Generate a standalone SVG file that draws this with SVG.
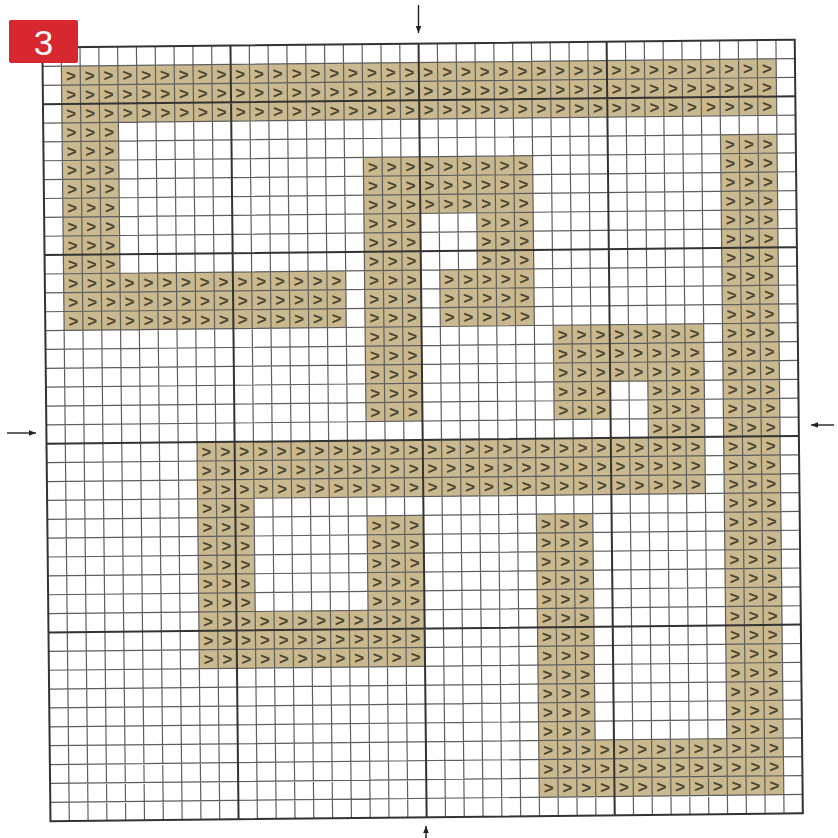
<svg xmlns="http://www.w3.org/2000/svg" width="838" height="838" viewBox="0 0 838 838">
<style>
.bg{fill:#ffffff}
.tan{fill:#cab88f}
.thin{fill:none;stroke:#5e5e5e;stroke-width:1.2}
.thick{fill:none;stroke:#333333;stroke-width:2}
.sym{font-family:"Liberation Sans",Arial,sans-serif;font-size:17px;font-weight:bold;fill:#4d4630;text-anchor:middle}
.lbl{font-family:"Liberation Sans",Arial,sans-serif;font-size:35px;fill:#ffffff;text-anchor:middle}
.arr{stroke:#222;stroke-width:1.4;fill:none}
</style>
<defs>
<marker id="ah" viewBox="0 0 10 10" refX="10" refY="5" markerWidth="7" markerHeight="7" markerUnits="userSpaceOnUse" orient="auto"><path d="M0,1 L10,5 L0,9 z" fill="#222"/></marker>
<text id="A" class="sym" y="0" x="74.62 93.43 112.24 131.05 149.86 168.67 187.48 206.29 225.1 243.91 262.72 281.53 300.34 319.15 337.96 356.77 375.58 394.39 413.2 432.01 450.82 469.63 488.44 507.25 526.06 544.87 563.68 582.49 601.3 620.11 638.92 657.73 676.54 695.35 714.16 732.97 751.78 770.59">&gt;&gt;&gt;&gt;&gt;&gt;&gt;&gt;&gt;&gt;&gt;&gt;&gt;&gt;&gt;&gt;&gt;&gt;&gt;&gt;&gt;&gt;&gt;&gt;&gt;&gt;&gt;&gt;&gt;&gt;&gt;&gt;&gt;&gt;&gt;&gt;&gt;&gt;</text>
<text id="B" class="sym" y="0" x="74.62 93.43 112.24">&gt;&gt;&gt;</text>
<text id="C" class="sym" y="0" x="74.62 93.43 112.24 732.97 751.78 770.59">&gt;&gt;&gt;&gt;&gt;&gt;</text>
<text id="D" class="sym" y="0" x="74.62 93.43 112.24 375.58 394.39 413.2 432.01 450.82 469.63 488.44 507.25 526.06 732.97 751.78 770.59">&gt;&gt;&gt;&gt;&gt;&gt;&gt;&gt;&gt;&gt;&gt;&gt;&gt;&gt;&gt;</text>
<text id="E" class="sym" y="0" x="74.62 93.43 112.24 375.58 394.39 413.2 488.44 507.25 526.06 732.97 751.78 770.59">&gt;&gt;&gt;&gt;&gt;&gt;&gt;&gt;&gt;&gt;&gt;&gt;</text>
<text id="F" class="sym" y="0" x="74.62 93.43 112.24 131.05 149.86 168.67 187.48 206.29 225.1 243.91 262.72 281.53 300.34 319.15 337.96 375.58 394.39 413.2 450.82 469.63 488.44 507.25 526.06 732.97 751.78 770.59">&gt;&gt;&gt;&gt;&gt;&gt;&gt;&gt;&gt;&gt;&gt;&gt;&gt;&gt;&gt;&gt;&gt;&gt;&gt;&gt;&gt;&gt;&gt;&gt;&gt;&gt;</text>
<text id="G" class="sym" y="0" x="375.58 394.39 413.2 563.68 582.49 601.3 620.11 638.92 657.73 676.54 695.35 732.97 751.78 770.59">&gt;&gt;&gt;&gt;&gt;&gt;&gt;&gt;&gt;&gt;&gt;&gt;&gt;&gt;</text>
<text id="H" class="sym" y="0" x="375.58 394.39 413.2 563.68 582.49 601.3 657.73 676.54 695.35 732.97 751.78 770.59">&gt;&gt;&gt;&gt;&gt;&gt;&gt;&gt;&gt;&gt;&gt;&gt;</text>
<text id="I" class="sym" y="0" x="657.73 676.54 695.35 732.97 751.78 770.59">&gt;&gt;&gt;&gt;&gt;&gt;</text>
<text id="J" class="sym" y="0" x="206.29 225.1 243.91 262.72 281.53 300.34 319.15 337.96 356.77 375.58 394.39 413.2 432.01 450.82 469.63 488.44 507.25 526.06 544.87 563.68 582.49 601.3 620.11 638.92 657.73 676.54 695.35 732.97 751.78 770.59">&gt;&gt;&gt;&gt;&gt;&gt;&gt;&gt;&gt;&gt;&gt;&gt;&gt;&gt;&gt;&gt;&gt;&gt;&gt;&gt;&gt;&gt;&gt;&gt;&gt;&gt;&gt;&gt;&gt;&gt;</text>
<text id="K" class="sym" y="0" x="206.29 225.1 243.91 732.97 751.78 770.59">&gt;&gt;&gt;&gt;&gt;&gt;</text>
<text id="L" class="sym" y="0" x="206.29 225.1 243.91 375.58 394.39 413.2 544.87 563.68 582.49 732.97 751.78 770.59">&gt;&gt;&gt;&gt;&gt;&gt;&gt;&gt;&gt;&gt;&gt;&gt;</text>
<text id="M" class="sym" y="0" x="206.29 225.1 243.91 262.72 281.53 300.34 319.15 337.96 356.77 375.58 394.39 413.2 544.87 563.68 582.49 732.97 751.78 770.59">&gt;&gt;&gt;&gt;&gt;&gt;&gt;&gt;&gt;&gt;&gt;&gt;&gt;&gt;&gt;&gt;&gt;&gt;</text>
<text id="N" class="sym" y="0" x="544.87 563.68 582.49 732.97 751.78 770.59">&gt;&gt;&gt;&gt;&gt;&gt;</text>
<text id="O" class="sym" y="0" x="544.87 563.68 582.49 601.3 620.11 638.92 657.73 676.54 695.35 714.16 732.97 751.78 770.59">&gt;&gt;&gt;&gt;&gt;&gt;&gt;&gt;&gt;&gt;&gt;&gt;&gt;</text>
</defs>
<rect class="bg" x="0" y="0" width="838" height="838"/>
<g id="chart" transform="rotate(-0.6 422.6 430.4)">
<g id="cells">
<rect class="tan" x="65.21" y="62.47" width="714.78" height="56.61"/>
<rect class="tan" x="65.21" y="119.08" width="56.43" height="150.96"/>
<rect class="tan" x="65.21" y="270.04" width="282.15" height="56.61"/>
<rect class="tan" x="366.17" y="156.82" width="169.29" height="56.61"/>
<rect class="tan" x="366.17" y="213.43" width="56.43" height="207.57"/>
<rect class="tan" x="479.03" y="213.43" width="56.43" height="56.61"/>
<rect class="tan" x="441.41" y="270.04" width="94.05" height="56.61"/>
<rect class="tan" x="554.27" y="326.65" width="150.48" height="56.61"/>
<rect class="tan" x="554.27" y="383.26" width="56.43" height="37.74"/>
<rect class="tan" x="648.32" y="383.26" width="56.43" height="56.61"/>
<rect class="tan" x="196.88" y="439.87" width="507.87" height="56.61"/>
<rect class="tan" x="196.88" y="496.48" width="56.43" height="113.22"/>
<rect class="tan" x="366.17" y="515.35" width="56.43" height="94.35"/>
<rect class="tan" x="196.88" y="609.7" width="225.72" height="56.61"/>
<rect class="tan" x="723.56" y="137.95" width="56.43" height="603.84"/>
<rect class="tan" x="535.46" y="515.35" width="56.43" height="226.44"/>
<rect class="tan" x="535.46" y="741.79" width="244.53" height="56.61"/>
</g>
<g id="grid">
<path class="thin" d="M65.21 43.6V817.27M84.02 43.6V817.27M102.83 43.6V817.27M121.64 43.6V817.27M140.45 43.6V817.27M159.26 43.6V817.27M178.07 43.6V817.27M196.88 43.6V817.27M215.69 43.6V817.27M253.31 43.6V817.27M272.12 43.6V817.27M290.93 43.6V817.27M309.74 43.6V817.27M328.55 43.6V817.27M347.36 43.6V817.27M366.17 43.6V817.27M384.98 43.6V817.27M403.79 43.6V817.27M441.41 43.6V817.27M460.22 43.6V817.27M479.03 43.6V817.27M497.84 43.6V817.27M516.65 43.6V817.27M535.46 43.6V817.27M554.27 43.6V817.27M573.08 43.6V817.27M591.89 43.6V817.27M629.51 43.6V817.27M648.32 43.6V817.27M667.13 43.6V817.27M685.94 43.6V817.27M704.75 43.6V817.27M723.56 43.6V817.27M742.37 43.6V817.27M761.18 43.6V817.27M779.99 43.6V817.27
M46.4 62.47H798.8M46.4 81.34H798.8M46.4 119.08H798.8M46.4 137.95H798.8M46.4 156.82H798.8M46.4 175.69H798.8M46.4 194.56H798.8M46.4 213.43H798.8M46.4 232.3H798.8M46.4 270.04H798.8M46.4 288.91H798.8M46.4 307.78H798.8M46.4 326.65H798.8M46.4 345.52H798.8M46.4 364.39H798.8M46.4 383.26H798.8M46.4 402.13H798.8M46.4 421H798.8M46.4 458.74H798.8M46.4 477.61H798.8M46.4 496.48H798.8M46.4 515.35H798.8M46.4 534.22H798.8M46.4 553.09H798.8M46.4 571.96H798.8M46.4 590.83H798.8M46.4 609.7H798.8M46.4 647.44H798.8M46.4 666.31H798.8M46.4 685.18H798.8M46.4 704.05H798.8M46.4 722.92H798.8M46.4 741.79H798.8M46.4 760.66H798.8M46.4 779.53H798.8M46.4 798.4H798.8"/>
<path class="thick" d="M234.5 43.6V817.27M422.6 43.6V817.27M610.7 43.6V817.27M46.4 100.21H798.8M46.4 251.17H798.8M46.4 439.87H798.8M46.4 628.57H798.8"/>
<rect class="thick" x="46.4" y="43.6" width="752.4" height="773.67"/>
</g>
<g id="symbols" transform="translate(0 0.6)">
<use href="#A" y="77.4"/>
<use href="#A" y="96.28"/>
<use href="#A" y="115.15"/>
<use href="#B" y="134.02"/>
<use href="#C" y="152.89"/>
<use href="#D" y="171.76"/>
<use href="#D" y="190.63"/>
<use href="#D" y="209.5"/>
<use href="#E" y="228.37"/>
<use href="#E" y="247.24"/>
<use href="#E" y="266.11"/>
<use href="#F" y="284.98"/>
<use href="#F" y="303.85"/>
<use href="#F" y="322.72"/>
<use href="#G" y="341.59"/>
<use href="#G" y="360.46"/>
<use href="#G" y="379.33"/>
<use href="#H" y="398.2"/>
<use href="#H" y="417.07"/>
<use href="#I" y="435.94"/>
<use href="#J" y="454.81"/>
<use href="#J" y="473.68"/>
<use href="#J" y="492.55"/>
<use href="#K" y="511.42"/>
<use href="#L" y="530.29"/>
<use href="#L" y="549.16"/>
<use href="#L" y="568.03"/>
<use href="#L" y="586.9"/>
<use href="#L" y="605.77"/>
<use href="#M" y="624.64"/>
<use href="#M" y="643.51"/>
<use href="#M" y="662.38"/>
<use href="#N" y="681.25"/>
<use href="#N" y="700.12"/>
<use href="#N" y="718.99"/>
<use href="#N" y="737.86"/>
<use href="#O" y="756.73"/>
<use href="#O" y="775.6"/>
<use href="#O" y="794.47"/>
</g>
</g>
<g id="connectors">
<line class="arr" x1="418.5" y1="5" x2="418.5" y2="33" marker-end="url(#ah)"/>
<line class="arr" x1="7" y1="433" x2="36" y2="433" marker-end="url(#ah)"/>
<line class="arr" x1="834" y1="425" x2="811" y2="425" marker-end="url(#ah)"/>
<line class="arr" x1="426" y1="840" x2="426" y2="826" marker-end="url(#ah)"/>
</g>
<g id="label">
<rect x="9" y="20" width="69" height="43" rx="2" fill="#d8282f"/>
<text class="lbl" x="43.5" y="55">3</text>
</g>
</svg>
